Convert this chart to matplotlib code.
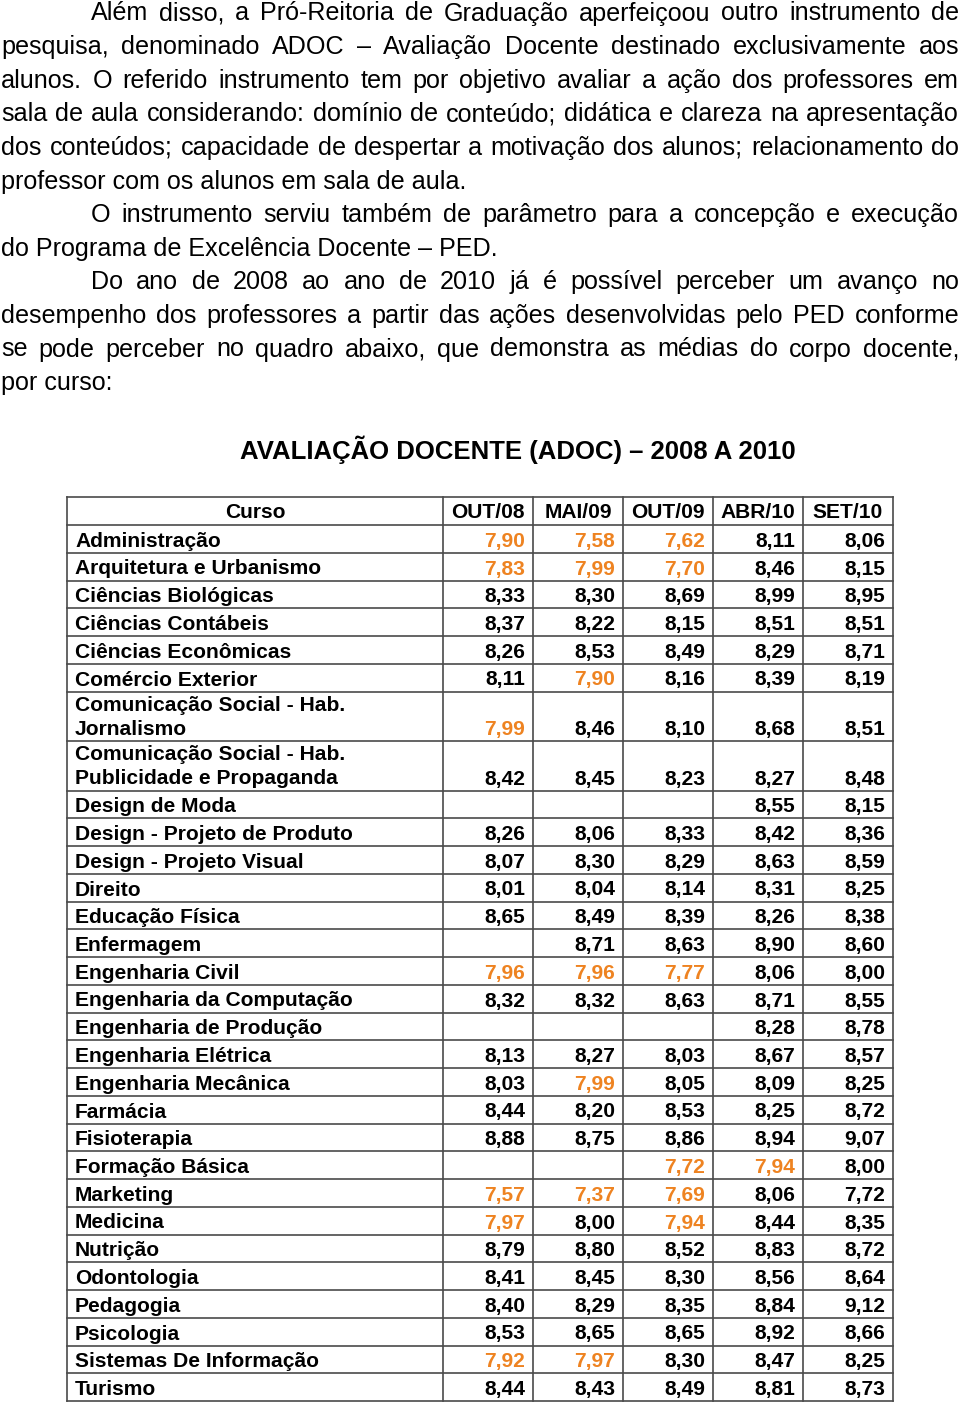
import matplotlib
matplotlib.use("Agg")
import matplotlib.pyplot as plt

# paragraph lines of the page (indent flag, justify flag, text)
paragraph_lines = [
    (True, True, "Além disso, a Pró-Reitoria de Graduação aperfeiçoou outro instrumento de"),
    (False, True, "pesquisa, denominado ADOC – Avaliação Docente destinado exclusivamente aos"),
    (False, True, "alunos. O referido instrumento tem por objetivo avaliar a ação dos professores em"),
    (False, True, "sala de aula considerando: domínio de conteúdo; didática e clareza na apresentação"),
    (False, True, "dos conteúdos; capacidade de despertar a motivação dos alunos; relacionamento do"),
    (False, False, "professor com os alunos em sala de aula."),
    (True, True, "O instrumento serviu também de parâmetro para a concepção e execução"),
    (False, False, "do Programa de Excelência Docente – PED."),
    (True, True, "Do ano de 2008 ao ano de 2010 já é possível perceber um avanço no"),
    (False, True, "desempenho dos professores a partir das ações desenvolvidas pelo PED conforme"),
    (False, True, "se pode perceber no quadro abaixo, que demonstra as médias do corpo docente,"),
    (False, False, "por curso:"),
]

title = "AVALIAÇÃO DOCENTE (ADOC) – 2008 A 2010"

periods = ["OUT/08", "MAI/09", "OUT/09", "ABR/10", "SET/10"]

courses = [
    "Administração", "Arquitetura e Urbanismo", "Ciências Biológicas",
    "Ciências Contábeis", "Ciências Econômicas", "Comércio Exterior",
    "Comunicação Social - Hab.\nJornalismo",
    "Comunicação Social - Hab.\nPublicidade e Propaganda",
    "Design de Moda", "Design - Projeto de Produto", "Design - Projeto Visual",
    "Direito", "Educação Física", "Enfermagem", "Engenharia Civil",
    "Engenharia da Computação", "Engenharia de Produção", "Engenharia Elétrica",
    "Engenharia Mecânica", "Farmácia", "Fisioterapia", "Formação Básica",
    "Marketing", "Medicina", "Nutrição", "Odontologia", "Pedagogia",
    "Psicologia", "Sistemas De Informação", "Turismo",
]

out08 = [7.90, 7.83, 8.33, 8.37, 8.26, 8.11, 7.99, 8.42, None, 8.26, 8.07, 8.01,
         8.65, None, 7.96, 8.32, None, 8.13, 8.03, 8.44, 8.88, None, 7.57, 7.97,
         8.79, 8.41, 8.40, 8.53, 7.92, 8.44]
mai09 = [7.58, 7.99, 8.30, 8.22, 8.53, 7.90, 8.46, 8.45, None, 8.06, 8.30, 8.04,
         8.49, 8.71, 7.96, 8.32, None, 8.27, 7.99, 8.20, 8.75, None, 7.37, 8.00,
         8.80, 8.45, 8.29, 8.65, 7.97, 8.43]
out09 = [7.62, 7.70, 8.69, 8.15, 8.49, 8.16, 8.10, 8.23, None, 8.33, 8.29, 8.14,
         8.39, 8.63, 7.77, 8.63, None, 8.03, 8.05, 8.53, 8.86, 7.72, 7.69, 7.94,
         8.52, 8.30, 8.35, 8.65, 8.30, 8.49]
abr10 = [8.11, 8.46, 8.99, 8.51, 8.29, 8.39, 8.68, 8.27, 8.55, 8.42, 8.63, 8.31,
         8.26, 8.90, 8.06, 8.71, 8.28, 8.67, 8.09, 8.25, 8.94, 7.94, 8.06, 8.44,
         8.83, 8.56, 8.84, 8.92, 8.47, 8.81]
set10 = [8.06, 8.15, 8.95, 8.51, 8.71, 8.19, 8.51, 8.48, 8.15, 8.36, 8.59, 8.25,
         8.38, 8.60, 8.00, 8.55, 8.78, 8.57, 8.25, 8.72, 9.07, 8.00, 7.72, 8.35,
         8.72, 8.64, 9.12, 8.66, 8.25, 8.73]
columns = [out08, mai09, out09, abr10, set10]

ORANGE = "#EE8321"
LINE = "#4a4a4a"

fig = plt.figure(figsize=(9.6, 14.05), dpi=100)
ax = fig.add_axes([0, 0, 1, 1])
ax.set_xlim(0, 960)
ax.set_ylim(1405, 0)
ax.axis("off")
renderer = fig.canvas.get_renderer()

# --- justified paragraph text
body = dict(family="Liberation Sans", fontsize=18.1, color="black", va="center")
left, right, indent = 1, 959, 91
for i, (ind, just, line) in enumerate(paragraph_lines):
    y = 13.5 + i * 33.6
    x0 = indent if ind else left
    if not just:
        ax.text(x0, y, line, ha="left", **body)
        continue
    words = line.split(" ")
    texts = [ax.text(0, y, w, ha="left", **body) for w in words]
    widths = [t.get_window_extent(renderer).width for t in texts]
    gap = (right - x0 - sum(widths)) / (len(words) - 1)
    x = x0
    for t, w in zip(texts, widths):
        t.set_x(x)
        x += w + gap

# --- title
ax.text(518, 450, title, ha="center", va="center", family="Liberation Sans",
        fontsize=18.5, fontweight="bold")

# --- table
col_edges = [67, 443, 533, 623, 713, 803, 893]
header_top, header_bottom = 497, 525
row_h, double_h = 27.75, 49.5
cell = dict(family="Liberation Sans", fontsize=15.1, fontweight="bold", va="center")

for j, name in enumerate(["Curso"] + periods):
    ax.text((col_edges[j] + col_edges[j + 1]) / 2, 512, name, ha="center", **cell)

y_top = header_bottom
row_lines = [header_top, header_bottom]
for i, course in enumerate(courses):
    h = double_h if "\n" in course else row_h
    y_bot = y_top + h
    y_text = y_bot - 11.5
    name_lines = course.split("\n")
    for k, part in enumerate(reversed(name_lines)):
        ax.text(75, y_text - 24 * k, part, ha="left", **cell)
    for j, col in enumerate(columns):
        v = col[i]
        if v is None:
            continue
        # lower-than-8 marks of the earlier surveys are highlighted
        color = ORANGE if (v < 8 and j < len(columns) - 1) else "black"
        ax.text(col_edges[j + 2] - 8, y_text, f"{v:.2f}".replace(".", ","),
                ha="right", color=color, **cell)
    row_lines.append(y_bot)
    y_top = y_bot

for y in row_lines:
    ax.plot([col_edges[0], col_edges[-1]], [y, y], color=LINE, lw=1.2,
            solid_capstyle="projecting")
for x in col_edges:
    ax.plot([x, x], [header_top, row_lines[-1]], color=LINE, lw=1.2,
            solid_capstyle="projecting")

fig.savefig("out.png", dpi=100)
